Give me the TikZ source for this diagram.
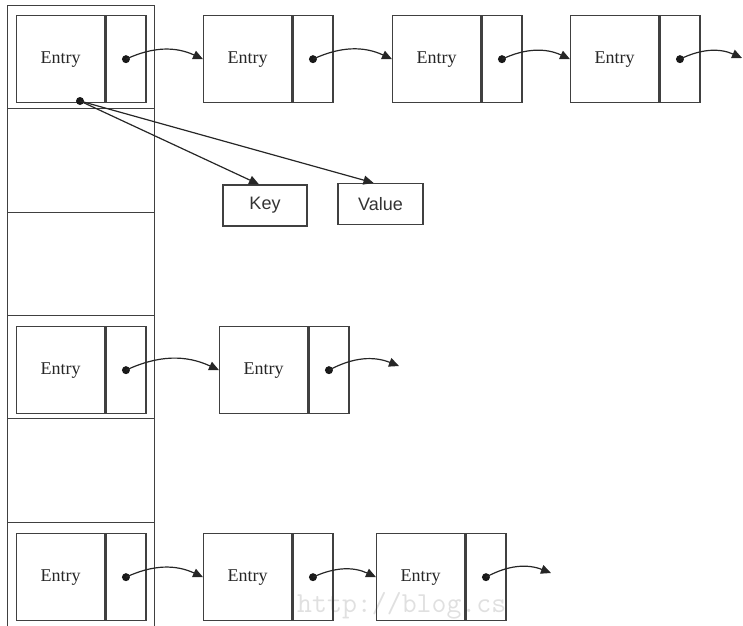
\documentclass[tikz,border=0pt]{standalone}
\usepackage{fontspec}
\setmainfont{Liberation Serif}
\newfontfamily\keyfont{Liberation Sans}
\usetikzlibrary{arrows.meta}
\begin{document}
\begin{tikzpicture}[x=1pt,y=-1pt,
  line/.style={draw=black!75,line width=1.3pt},
  cell/.style={line,minimum width=147pt,inner sep=0pt,anchor=north west},
  entrybox/.style={line,minimum width=88pt,minimum height=87pt,inner sep=0pt,
    anchor=north west,text=black!85,font=\fontsize{18}{20}\selectfont},
  ptrbox/.style={line,minimum width=40pt,minimum height=87pt,inner sep=0pt,anchor=west},
  kvbox/.style={line,minimum height=41pt,inner sep=0pt,text=black!80,
    font=\keyfont\fontsize{18}{20}\selectfont},
  link/.style={draw=black!85,line width=1.2pt,-{Triangle[length=10pt,width=9pt]}},
  dot/.style={fill=black!90}]
\useasboundingbox (0,0) rectangle (743,625);
% watermark
\node[text=black!12,font=\ttfamily\fontsize{29}{29}\selectfont,anchor=base west,inner sep=0pt] (wm) at (297,612) {http://blog.cs};
% bucket column
\node[cell,minimum height=103.5pt] (c1) at (7,4.5) {};
\node[cell,minimum height=104pt] (c2) at (7,108) {};
\node[cell,minimum height=103pt] (c3) at (7,212) {};
\node[cell,minimum height=103pt] (c4) at (7,315) {};
\node[cell,minimum height=104pt] (c5) at (7,418) {};
\node[cell,minimum height=110pt] (c6) at (7,522) {};
% row 1
\node[entrybox] (a1) at (16,15) {Entry};
\node[ptrbox] (a1p) at (a1.east) {};
\node[entrybox] (a2) at (203,15) {Entry};
\node[ptrbox] (a2p) at (a2.east) {};
\node[entrybox] (a3) at (392,15) {Entry};
\node[ptrbox] (a3p) at (a3.east) {};
\node[entrybox] (a4) at (570,15) {Entry};
\node[ptrbox] (a4p) at (a4.east) {};
\coordinate (a5) at (742,58);
\foreach \p in {a1p,a2p,a3p,a4p} \fill[dot] (\p.center) circle (4pt);
\draw[link] (a1p.center) to[bend left=25] (a2.west);
\draw[link] (a2p.center) to[bend left=25] (a3.west);
\draw[link] (a3p.center) to[bend left=25] (a4.west);
\draw[link] (a4p.center) to[bend left=25] (a5);
% key / value
\node[kvbox,minimum width=84pt] (key) at (265,205.5) {Key};
\node[kvbox,minimum width=85pt] (val) at (380.5,204) {Value};
\coordinate (kv) at (80,101);
\fill[dot] (kv) circle (4pt);
\draw[link] (kv) -- ([xshift=-6pt]key.north);
\draw[link] (kv) -- ([xshift=-7pt]val.north);
% row 2
\node[entrybox] (b1) at (16,326) {Entry};
\node[ptrbox] (b1p) at (b1.east) {};
\node[entrybox] (b2) at (219,326) {Entry};
\node[ptrbox] (b2p) at (b2.east) {};
\coordinate (b3) at (399,366);
\foreach \p in {b1p,b2p} \fill[dot] (\p.center) circle (4pt);
\draw[link] (b1p.center) to[bend left=25] (b2.west);
\draw[link] (b2p.center) to[bend left=25] (b3);
% row 3
\node[entrybox] (d1) at (16,533) {Entry};
\node[ptrbox] (d1p) at (d1.east) {};
\node[entrybox] (d2) at (203,533) {Entry};
\node[ptrbox] (d2p) at (d2.east) {};
\node[entrybox] (d3) at (376,533) {Entry};
\node[ptrbox] (d3p) at (d3.east) {};
\coordinate (d4) at (551,573);
\foreach \p in {d1p,d2p,d3p} \fill[dot] (\p.center) circle (4pt);
\draw[link] (d1p.center) to[bend left=25] (d2.west);
\draw[link] (d2p.center) to[bend left=25] (d3.west);
\draw[link] (d3p.center) to[bend left=25] (d4);
\end{tikzpicture}
\end{document}
